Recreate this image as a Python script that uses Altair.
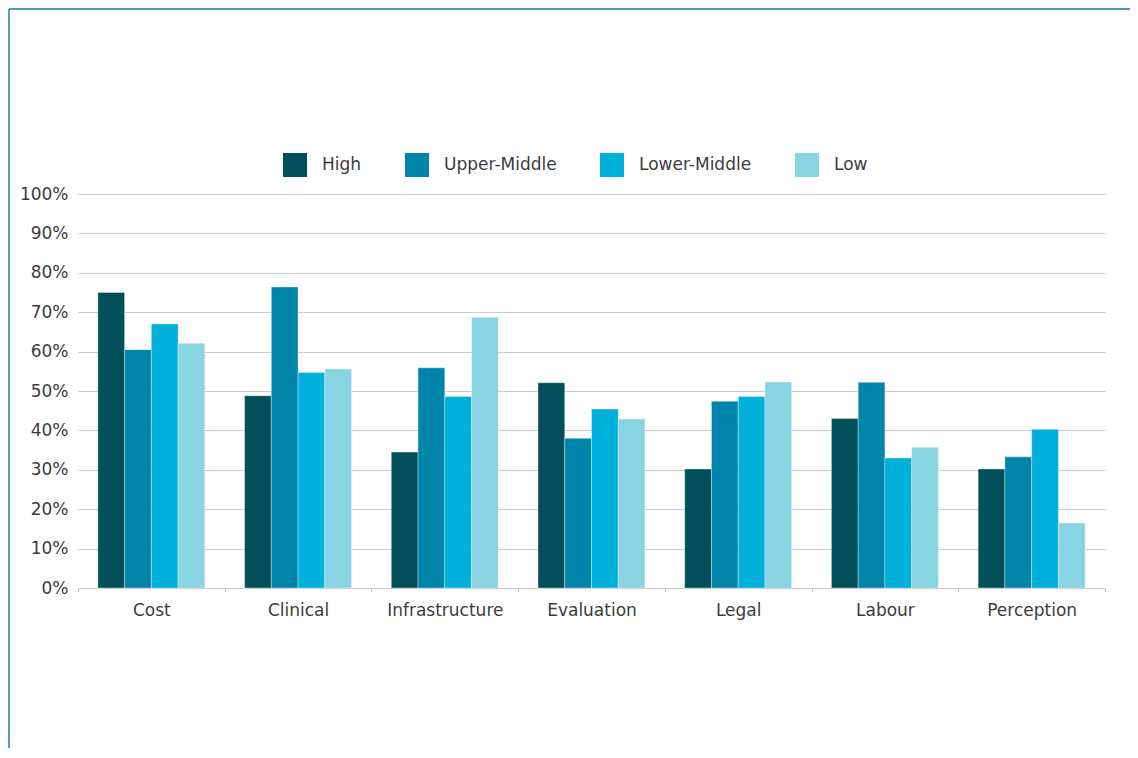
import altair as alt
import pandas as pd

categories = ["Cost", "Clinical", "Infrastructure", "Evaluation", "Legal", "Labour", "Perception"]
groups = ["High", "Upper-Middle", "Lower-Middle", "Low"]
high = [75.0, 48.8, 34.5, 52.1, 30.2, 43.0, 30.2]
upper_middle = [60.5, 76.4, 55.9, 38.0, 47.4, 52.2, 33.3]
lower_middle = [67.0, 54.7, 48.6, 45.4, 48.6, 33.0, 40.3]
low = [62.1, 55.6, 68.7, 42.9, 52.3, 35.7, 16.5]
colors = ["#004f5b", "#0085aa", "#00afda", "#89d4e2"]
y_ticks = [0, 10, 20, 30, 40, 50, 60, 70, 80, 90, 100]

rows = []
for g, vals in zip(groups, [high, upper_middle, lower_middle, low]):
    for c, v in zip(categories, vals):
        rows.append({"category": c, "group": g, "value": v})
df = pd.DataFrame(rows)

FONT = "DejaVu Sans"
TXT = "#3c3c3c"

bars = alt.Chart(df).mark_bar(stroke="#ffffff", strokeWidth=0.6, strokeOpacity=0.6).encode(
    x=alt.X("category:N", sort=categories, title=None,
            scale=alt.Scale(paddingInner=0, paddingOuter=0),
            axis=alt.Axis(labelAngle=0, labelFont=FONT, labelFontSize=17, labelColor=TXT,
                          labelPadding=10, tickSize=4, tickColor="#c8c8c8", tickBand="extent",
                          domainColor="#c8c8c8", domainWidth=1.2, grid=False)),
    xOffset=alt.XOffset("group:N", sort=groups, scale=alt.Scale(paddingInner=0, paddingOuter=0.742)),
    y=alt.Y("value:Q", title=None, scale=alt.Scale(domain=[0, 100], nice=False),
            axis=alt.Axis(values=y_ticks, labelExpr="datum.value + '%'", labelFont=FONT,
                          labelFontSize=17, labelColor=TXT, labelPadding=10, tickSize=0,
                          domain=False, grid=True, gridColor="#cccccc", gridWidth=1.2)),
    color=alt.Color("group:N", sort=groups, title=None,
                    scale=alt.Scale(domain=groups, range=colors),
                    legend=alt.Legend(orient="none", legendX=205, legendY=-41, direction="horizontal",
                                      symbolType="square", symbolSize=576, symbolStrokeWidth=0,
                                      labelFont=FONT, labelFontSize=17, labelColor=TXT,
                                      labelOffset=15, columnPadding=43, padding=0)),
)

frame_data = alt.Data(values=[{}])
top_line = alt.Chart(frame_data).mark_rule(color="#4b9ca8", strokeWidth=2).encode(
    x=alt.value(-69), x2=alt.value(1052), y=alt.value(-185))
left_line = alt.Chart(frame_data).mark_rule(color="#1f7f98", strokeWidth=1.5).encode(
    x=alt.value(-69), y=alt.value(-185), y2=alt.value(554))

chart = alt.layer(bars, top_line, left_line).properties(
    width=1027, height=394,
    autosize=alt.AutoSizeParams(type="none"),
    padding={"left": 70, "top": 186, "right": 25, "bottom": 160},
).configure_view(stroke=None)

chart.save("out.html", embed_options={"renderer": "svg", "actions": False})
